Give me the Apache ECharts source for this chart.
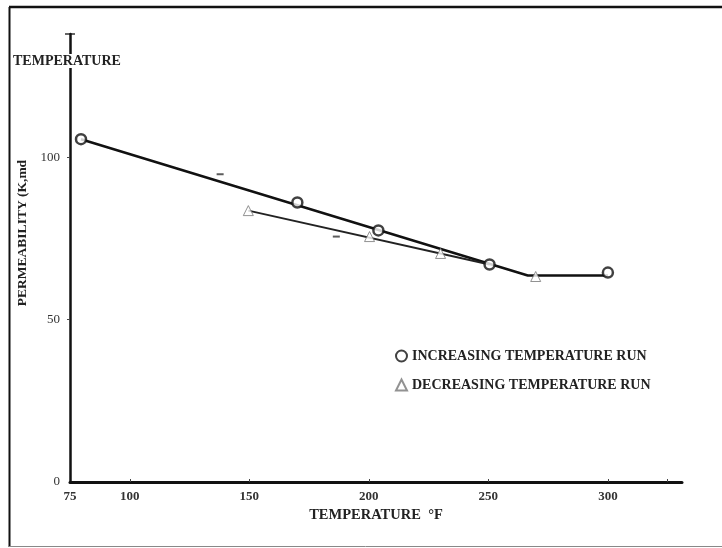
<!DOCTYPE html>
<html>
<head>
<meta charset="utf-8">
<script src="https://cdn.jsdelivr.net/npm/echarts@6/dist/echarts.min.js"></script>
<style>
html,body{margin:0;padding:0;background:#fff;}
#c{width:722px;height:548px;}
</style>
</head>
<body>
<div id="c"></div>
<script>
// ---- data ----
const xTickLabels = [75, 100, 150, 200, 250, 300];
const xTickMarks = [100, 150, 200, 250, 300, 325];
const yTickLabels = [0, 50, 100];

// increasing temperature run (circles)
const incTemp = [79.6, 170.1, 204.0, 250.5, 300];
const incPerm = [105.6, 86.1, 77.5, 67.0, 64.5];
// decreasing temperature run (triangles)
const decTemp = [149.6, 200.3, 230, 269.8];
const decPerm = [83.6, 75.6, 70.4, 63.3];
// drawn trend lines
const incFitTemp = [79.6, 266.5, 300];
const incFitPerm = [105.6, 63.6, 63.6];
const decFitTemp = [149.6, 250.5];
const decFitPerm = [83.6, 67.0];
// small stray marks on the plot
const strayTemp = [137.8, 186.4];
const strayPerm = [94.8, 75.6];

const zip = (a, b) => a.map((v, i) => [v, b[i]]);
const FONT = 'Liberation Serif';

const chart = echarts.init(document.getElementById('c'), null, {renderer: 'canvas'});
chart.setOption({
  animation: false,
  backgroundColor: '#fff',
  grid: {left: 70, right: 40, top: 34, bottom: 66, containLabel: false},
  xAxis: {
    type: 'value', min: 75, max: 331,
    name: 'TEMPERATURE  °F', nameLocation: 'middle', nameGap: 23,
    nameTextStyle: {fontFamily: FONT, fontWeight: 'bold', fontSize: 14.5, color: '#222'},
    axisLine: {show: true, lineStyle: {color: '#111', width: 3}},
    axisTick: {show: true, inside: true, length: 3, customValues: xTickMarks, lineStyle: {color: '#444', width: 1}},
    axisLabel: {customValues: xTickLabels, fontFamily: FONT, fontWeight: 'bold', fontSize: 13, color: '#333', margin: 8},
    splitLine: {show: false}
  },
  yAxis: {
    type: 'value', min: 0, max: 138,
    name: 'PERMEABILITY (K,md', nameLocation: 'middle', nameGap: 30, nameRotate: 90,
    nameTextStyle: {fontFamily: FONT, fontWeight: 'bold', fontSize: 13.5, color: '#222', padding: [0, 0, 0, 50]},
    axisLine: {show: true, lineStyle: {color: '#111', width: 2.5}},
    axisTick: {show: true, inside: false, length: 3, customValues: [50, 100], lineStyle: {color: '#444', width: 1}},
    axisLabel: {customValues: yTickLabels, fontFamily: FONT, fontSize: 13, color: '#333', margin: 10},
    splitLine: {show: false}
  },
  legend: {
    orient: 'vertical', left: 390, top: 344, itemGap: 15,
    itemWidth: 11, itemHeight: 11,
    textStyle: {fontFamily: FONT, fontWeight: 'bold', fontSize: 14, color: '#222'},
    data: ['INCREASING TEMPERATURE RUN', 'DECREASING TEMPERATURE RUN']
  },
  graphic: [
    {type: 'line', shape: {x1: 9, y1: 7, x2: 722, y2: 7}, style: {stroke: '#111', lineWidth: 2.5}, silent: true},
    {type: 'line', shape: {x1: 9.5, y1: 7, x2: 9.5, y2: 547}, style: {stroke: '#111', lineWidth: 2}, silent: true},
    {type: 'line', shape: {x1: 9, y1: 546.5, x2: 722, y2: 546.5}, style: {stroke: '#888', lineWidth: 1}, silent: true},
    {type: 'line', shape: {x1: 65, y1: 34, x2: 75, y2: 34}, style: {stroke: '#333', lineWidth: 1.5}, silent: true},
    {type: 'text', left: 13, top: 54, z: 10,
      style: {text: 'TEMPERATURE', font: 'bold 14px "Liberation Serif"', fill: '#222', backgroundColor: '#fff'}}
  ],
  series: [
    {type: 'line', name: 'inc-fit', data: zip(incFitTemp, incFitPerm), showSymbol: false,
      lineStyle: {color: '#111', width: 2.5}, z: 2, silent: true},
    {type: 'line', name: 'dec-fit', data: zip(decFitTemp, decFitPerm), showSymbol: false,
      lineStyle: {color: '#222', width: 2}, z: 2, silent: true},
    {type: 'scatter', name: 'stray', data: zip(strayTemp, strayPerm), symbol: 'rect', symbolSize: [7, 2],
      itemStyle: {color: '#333'}, z: 3, silent: true},
    {type: 'scatter', name: 'INCREASING TEMPERATURE RUN', data: zip(incTemp, incPerm),
      symbol: 'circle', symbolSize: 10,
      itemStyle: {color: '#fff', borderColor: '#111', borderWidth: 2.5}, z: 5},
    {type: 'scatter', name: 'DECREASING TEMPERATURE RUN', data: zip(decTemp, decPerm),
      symbol: 'triangle', symbolSize: 10,
      itemStyle: {color: '#fff', borderColor: '#777', borderWidth: 1}, z: 5}
  ]
});
</script>
</body>
</html>
